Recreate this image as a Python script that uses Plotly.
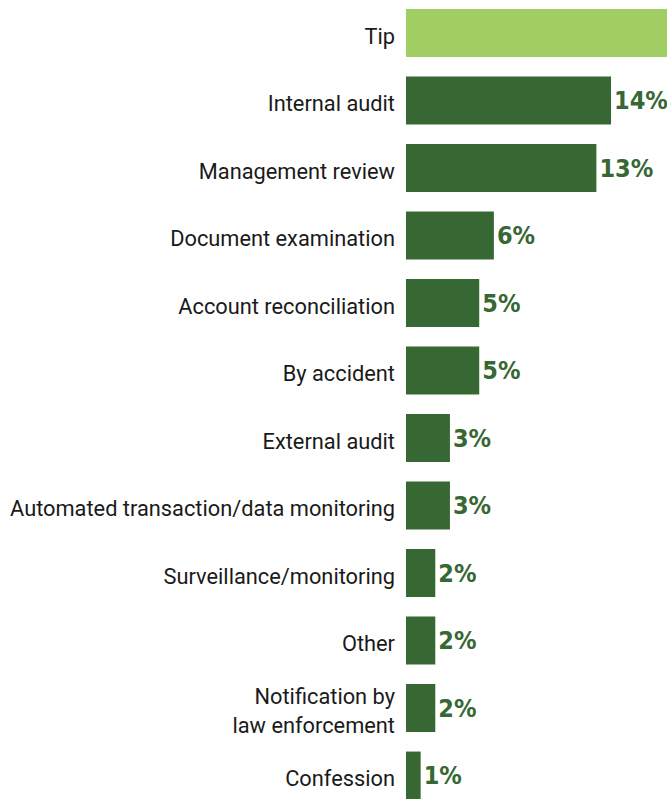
import plotly.graph_objects as go

categories = ["Tip", "Internal audit", "Management review", "Document examination",
              "Account reconciliation", "By accident", "External audit",
              "Automated transaction/data monitoring", "Surveillance/monitoring",
              "Other", "Notification by<br>law enforcement", "Confession"]
values = [42, 14, 13, 6, 5, 5, 3, 3, 2, 2, 2, 1]
highlight = "Tip"

DARK = "#376834"
LIGHT = "#a0ce63"
XMAX = 17.82

colors = [LIGHT if c == highlight else DARK for c in categories]
texts = [f"<b>{v}%</b>" if v < XMAX else "" for v in values]

fig = go.Figure(go.Bar(
    x=values, y=categories, orientation="h",
    marker=dict(color=colors, line=dict(width=0)),
    width=0.71,
    text=texts, textposition="outside",
    textfont=dict(family="Liberation Sans Narrow, DejaVu Sans Condensed, Roboto Condensed, Roboto",
                  size=25, color=DARK),
    cliponaxis=False,
))

fig.update_layout(
    width=667, height=799,
    margin=dict(l=406, r=0, t=0, b=0),
    paper_bgcolor="white", plot_bgcolor="white",
    showlegend=False,
    xaxis=dict(range=[0, XMAX], visible=False, fixedrange=True, automargin=False),
    yaxis=dict(range=[11.348, -0.489], showgrid=False, zeroline=False, showline=False,
               ticks="", ticklabelstandoff=10, ticklabelshift=-3, automargin=False,
               tickfont=dict(family="Roboto", size=21.8, color="#1a1a1a")),
)

fig.write_html("out.html", config={"displayModeBar": False},
               post_script="document.body.style.margin='0';")
